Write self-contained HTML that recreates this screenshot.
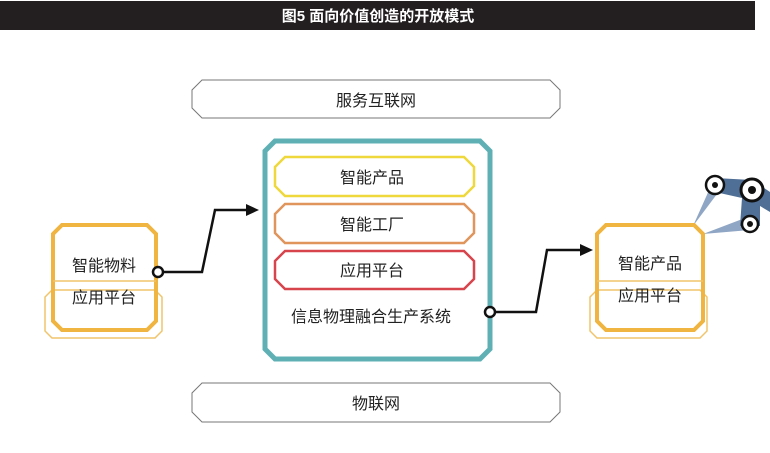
<!DOCTYPE html>
<html><head><meta charset="utf-8"><style>
body{margin:0;background:#fff}
svg{display:block}
text{font-family:"Liberation Sans","Noto Sans CJK SC",sans-serif;fill:#222}
</style></head><body>
<svg width="770" height="453" viewBox="0 0 770 453" xmlns="http://www.w3.org/2000/svg">
<rect x="0" y="1" width="755" height="29" fill="#231f20"/>
<text x="378" y="21" text-anchor="middle" font-size="15" font-weight="bold" style="fill:#fff">图5  面向价值创造的开放模式</text>

<!-- robot arm -->
<polygon points="693,226 710,188 720,190" fill="#8fa6c4"/>
<polygon points="703,234 745,218 750,230" fill="#8fa6c4"/>
<polygon points="715,178 752,180 770,192 770,212 760,206 760,226 740,226 742,198 715,192" fill="#4f6f96"/>
<circle cx="715" cy="185" r="9" fill="#fff" stroke="#111" stroke-width="2.5"/><circle cx="715" cy="185" r="3" fill="#111"/>
<circle cx="752" cy="190" r="11" fill="#fff" stroke="#111" stroke-width="3"/><circle cx="752" cy="190" r="4" fill="#111"/>
<circle cx="750" cy="224" r="8" fill="#fff" stroke="#111" stroke-width="2.5"/><circle cx="750" cy="224" r="3" fill="#111"/>

<!-- top / bottom pills -->
<polygon points="202,80 550,80 560,90 560,108 550,118 202,118 192,108 192,90" fill="#fff" stroke="#777" stroke-width="1"/>
<text x="376" y="106" text-anchor="middle" font-size="16">服务互联网</text>
<polygon points="202,383 550,383 560,393 560,412 550,422 202,422 192,412 192,393" fill="#fff" stroke="#777" stroke-width="1"/>
<text x="376" y="409" text-anchor="middle" font-size="16">物联网</text>

<!-- center -->
<polygon points="275,141 480,141 490,151 490,349 480,359 275,359 265,349 265,151" fill="#fff" stroke="#5fb0b5" stroke-width="5"/>
<polygon points="285,157 464,157 474,167 474,186 464,196 285,196 275,186 275,167" fill="#fff" stroke="#eed83c" stroke-width="2.5"/>
<text x="372" y="183" text-anchor="middle" font-size="16">智能产品</text>
<polygon points="285,204 464,204 474,214 474,233 464,243 285,243 275,233 275,214" fill="#fff" stroke="#e0955c" stroke-width="2.5"/>
<text x="372" y="230" text-anchor="middle" font-size="16">智能工厂</text>
<polygon points="285,251 464,251 474,261 474,279 464,289 285,289 275,279 275,261" fill="#fff" stroke="#d7444c" stroke-width="2.5"/>
<text x="372" y="276" text-anchor="middle" font-size="16">应用平台</text>
<text x="371" y="322" text-anchor="middle" font-size="16">信息物理融合生产系统</text>

<!-- left box -->
<polygon points="52,290 45,297 45,331 52,338 155,338 162,331 162,297 155,290" fill="#fff" stroke="#f0c46a" stroke-width="1.5"/>
<polygon points="62,225 147,225 156,234 156,321 147,330 62,330 53,321 53,234" fill="none" stroke="#f0b440" stroke-width="4"/>
<line x1="53" y1="281" x2="156" y2="281" stroke="#f0c46a" stroke-width="1.5"/>
<text x="104" y="271" text-anchor="middle" font-size="16">智能物料</text>
<text x="104" y="303" text-anchor="middle" font-size="16">应用平台</text>

<!-- right box -->
<polygon points="597,290 590,297 590,331 597,338 700,338 707,331 707,297 700,290" fill="#fff" stroke="#f0c46a" stroke-width="1.5"/>
<polygon points="606,225 694,225 703,234 703,321 694,330 606,330 597,321 597,234" fill="none" stroke="#f0b440" stroke-width="4"/>
<line x1="597" y1="281" x2="703" y2="281" stroke="#f0c46a" stroke-width="1.5"/>
<text x="650" y="269" text-anchor="middle" font-size="16">智能产品</text>
<text x="650" y="301" text-anchor="middle" font-size="16">应用平台</text>

<!-- connectors -->
<polyline points="163,272 202,272 215,210 248,210" fill="none" stroke="#111" stroke-width="2.5"/>
<polygon points="246,204 259,210 246,216" fill="#111"/>
<circle cx="158" cy="272" r="5" fill="#fff" stroke="#111" stroke-width="2.5"/>
<polyline points="495,312 536,312 547,250 582,250" fill="none" stroke="#111" stroke-width="2.5"/>
<polygon points="580,244 593,250 580,256" fill="#111"/>
<circle cx="490" cy="312" r="5" fill="#fff" stroke="#111" stroke-width="2.5"/>
</svg>
</body></html>
